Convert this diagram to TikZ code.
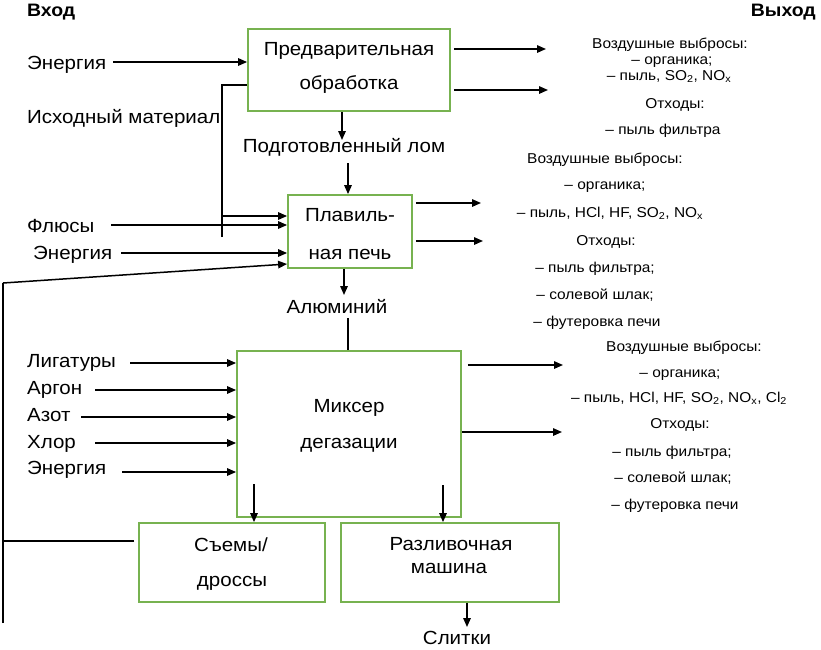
\documentclass[tikz,border=0pt]{standalone}
\usepackage{fontspec}
\setmainfont{Liberation Sans}[FakeStretch=1.08]
\usetikzlibrary{arrows.meta}
\definecolor{boxgreen}{RGB}{119,178,80}
\begin{document}
\begin{tikzpicture}[x=1pt,y=-1pt,
  box/.style={draw=boxgreen,line width=1.8pt,inner sep=0pt},
  arr/.style={line width=1.5pt,-{Triangle[length=9pt,width=7.5pt]}},
  ln/.style={line width=1.5pt},
  thinln/.style={line width=1.1pt},
  lbl/.style={inner sep=0pt,yshift=-3pt,font=\fontsize{19}{21}\selectfont,text height=0.72em,text depth=0pt},
  outt/.style={inner sep=0pt,yshift=-2pt,font=\fontsize{14.3}{16}\selectfont,text height=0.72em,text depth=0pt},
  head/.style={inner sep=0pt,yshift=-2pt,font=\fontsize{18}{20}\selectfont\bfseries,text height=0.72em,text depth=0pt}]
\useasboundingbox (0,0) rectangle (821,649);

% boxes
\node[box,minimum width=202pt,minimum height=82pt] (b1) at (349,70) {};
\node[box,minimum width=124pt,minimum height=73pt] (b2) at (350,231.5) {};
\node[box,minimum width=224pt,minimum height=166pt] (b3) at (349,434) {};
\node[box,minimum width=186pt,minimum height=79pt] (b4) at (232,562.5) {};
\node[box,minimum width=218pt,minimum height=79pt] (b5) at (450,562.5) {};

% box texts
\node[lbl] (t1a) at (349,49) {Предварительная};
\node[lbl] (t1b) at (349,83) {обработка};
\node[lbl] (t2a) at (350,215) {Плавиль-};
\node[lbl] (t2b) at (350,253) {ная печь};
\node[lbl] (t3a) at (349,406) {Миксер};
\node[lbl] (t3b) at (349,442) {дегазации};
\node[lbl] (t4a) at (231,545) {Съемы/};
\node[lbl] (t4b) at (232,580) {дроссы};
\node[lbl] (t5a) at (451,544) {Разливочная};
\node[lbl] (t5b) at (449,567) {машина};

% headers
\node[head,anchor=west] (hin) at (27,11) {Вход};
\node[head,anchor=east] (hout) at (816,11) {Выход};

% left labels
\node[lbl,anchor=west] (L1) at (27,63) {Энергия};
\node[lbl,anchor=west] (L2) at (27,117) {Исходный материал};
\node[lbl,anchor=west] (L3) at (27,226) {Флюсы};
\node[lbl,anchor=west] (L4) at (33,253) {Энергия};
\node[lbl,anchor=west] (L5) at (27,361) {Лигатуры};
\node[lbl,anchor=west] (L6) at (27,388) {Аргон};
\node[lbl,anchor=west] (L7) at (27,415) {Азот};
\node[lbl,anchor=west] (L8) at (27,442) {Хлор};
\node[lbl,anchor=west] (L9) at (27,468) {Энергия};
\node[lbl] (M1) at (344,146) {Подготовленный лом};
\node[lbl] (M2) at (337,307) {Алюминий};
\node[lbl] (M3) at (457,638) {Слитки};

% right texts block 1
\node[outt] (R11) at (670,43) {Воздушные выбросы:};
\node[outt] (R12) at (672,59) {– органика;};
\node[outt] (R13) at (669,75) {– пыль, SO\textsubscript{2}, NO\textsubscript{x}};
\node[outt] (R14) at (675,103) {Отходы:};
\node[outt] (R15) at (663,129) {– пыль фильтра};
% block 2
\node[outt] (R21) at (605,158) {Воздушные выбросы:};
\node[outt] (R22) at (605,184) {– органика;};
\node[outt] (R23) at (610,212) {– пыль, HCl, HF, SO\textsubscript{2}, NO\textsubscript{x}};
\node[outt] (R24) at (606,240) {Отходы:};
\node[outt] (R25) at (595,267) {– пыль фильтра;};
\node[outt] (R26) at (595,294) {– солевой шлак;};
\node[outt] (R27) at (597,321) {– футеровка печи};
% block 3
\node[outt] (R31) at (684,346) {Воздушные выбросы:};
\node[outt] (R32) at (680,372) {– органика;};
\node[outt] (R33) at (679,397) {– пыль, HCl, HF, SO\textsubscript{2}, NO\textsubscript{x}, Cl\textsubscript{2}};
\node[outt] (R34) at (680,423) {Отходы:};
\node[outt] (R35) at (672,451) {– пыль фильтра;};
\node[outt] (R36) at (673,477) {– солевой шлак;};
\node[outt] (R37) at (675,504) {– футеровка печи};

% left inputs
\coordinate (e1) at (113,62);
\draw[arr] (e1) -- (e1 -| b1.west);
\coordinate (m1) at (222,237);
\coordinate (m2) at (222,85);
\draw[thinln] (m1) -- (m2) -- (m2 -| b1.west);
\coordinate (m3) at (222,216);
\draw[arr] (m3) -- (m3 -| b2.west);
\coordinate (f1) at (111,225);
\draw[arr] (f1) -- (f1 -| b2.west);
\coordinate (e2) at (121,253);
\draw[arr] (e2) -- (e2 -| b2.west);

% feedback from dross
\coordinate (s1) at (3,541);
\coordinate (s0) at (3,623);
\coordinate (s2) at (3,283);
\coordinate (s3) at (0,264);
\draw[thinln,shorten <=4pt] (s1 -| b4.west) -- (s1);
\draw[thinln] (s0) -- (s2);
\draw[arr] (s2) -- (s3 -| b2.west);

% mixer inputs
\coordinate (l1) at (130,363);
\coordinate (l2) at (95,390);
\coordinate (l3) at (81,417);
\coordinate (l4) at (95,443);
\coordinate (l5) at (122,472);
\foreach \c in {l1,l2,l3,l4,l5} \draw[arr] (\c) -- (\c -| b3.west);

% vertical flow
\coordinate (p1) at (342,140);
\draw[arr] (p1 |- b1.south) -- (p1);
\coordinate (p2) at (348,163);
\draw[arr] (p2) -- (p2 |- b2.north);
\coordinate (p3) at (344,295);
\draw[arr] (p3 |- b2.south) -- (p3);
\coordinate (p4) at (348,318);
\draw[ln] (p4) -- (p4 |- b3.north);
\coordinate (p5) at (254,484);
\draw[arr] (p5) -- (p5 |- b4.north);
\coordinate (p6) at (443,485);
\draw[arr] (p6) -- (p6 |- b5.north);
\coordinate (p7) at (467,627);
\draw[arr] (p7 |- b5.south) -- (p7);

% outputs
\coordinate (r1) at (546,49);
\coordinate (r2) at (548,90);
\coordinate (r3) at (481,203);
\coordinate (r4) at (483,241);
\coordinate (r5) at (563,365);
\coordinate (r6) at (562,432);
\draw[arr,shorten <=3pt] (r1 -| b1.east) -- (r1);
\draw[arr,shorten <=3pt] (r2 -| b1.east) -- (r2);
\draw[arr,shorten <=3pt] (r3 -| b2.east) -- (r3);
\draw[arr,shorten <=3pt] (r4 -| b2.east) -- (r4);
\draw[arr,shorten <=6pt] (r5 -| b3.east) -- (r5);
\draw[arr] (r6 -| b3.east) -- (r6);
\end{tikzpicture}
\end{document}
